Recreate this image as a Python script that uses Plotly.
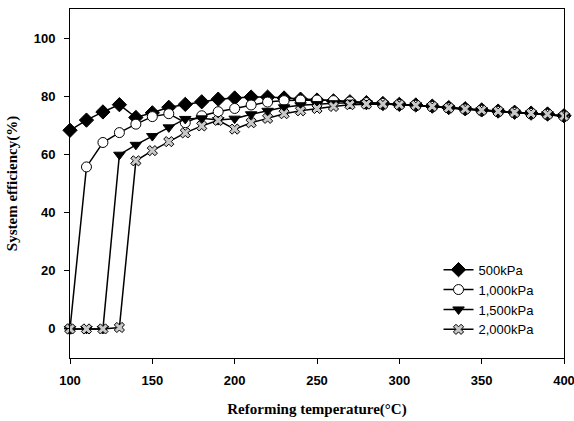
import plotly.graph_objects as go

temps = [100, 110, 120, 130, 140, 150, 160, 170, 180, 190, 200, 210, 220, 230, 240, 250,
         260, 270, 280, 290, 300, 310, 320, 330, 340, 350, 360, 370, 380, 390, 400]

eff_500 = [68.3, 71.8, 74.6, 77.1, 72.7, 74.3, 76.2, 77.2, 78.1, 79.0, 79.4, 79.7, 79.7, 79.4, 79.0, 78.7,
           78.4, 78.1, 77.8, 77.5, 77.2, 77.0, 76.6, 76.1, 75.7, 75.3, 74.9, 74.5, 74.2, 73.9, 73.3]
eff_1000 = [0.0, 55.7, 64.1, 67.5, 70.4, 73.0, 74.0, 70.9, 73.3, 74.7, 75.8, 77.0, 78.0, 78.5, 78.7, 78.7,
            78.5, 78.1, 77.8, 77.5, 77.1, 76.9, 76.5, 76.0, 75.6, 75.2, 74.8, 74.4, 74.1, 73.8, 73.2]
eff_1500 = [0.0, 0.0, 0.0, 59.9, 63.3, 66.3, 69.3, 72.2, 72.4, 71.8, 72.3, 73.8, 75.0, 76.2, 76.9, 77.3,
            77.6, 77.8, 77.7, 77.4, 77.1, 76.9, 76.5, 76.0, 75.6, 75.2, 74.8, 74.4, 74.1, 73.8, 73.2]
eff_2000 = [0.0, 0.0, 0.0, 0.5, 57.8, 61.3, 64.4, 67.4, 69.8, 71.7, 68.7, 70.9, 72.4, 74.0, 75.0, 75.8,
            76.5, 77.1, 77.3, 77.3, 77.1, 76.9, 76.5, 76.0, 75.6, 75.2, 74.8, 74.4, 74.1, 73.8, 73.2]

series_names = ["500kPa", "1,000kPa", "1,500kPa", "2,000kPa"]

fig = go.Figure()

styles = [
    dict(symbol="diamond", size=11, color="black", line=dict(color="black", width=1)),
    dict(symbol="circle", size=10, color="white", line=dict(color="black", width=1)),
    dict(symbol="triangle-down", size=10, color="black", line=dict(color="black", width=1)),
    dict(symbol="x", size=9, color="#c8c8c8", line=dict(color="black", width=1)),
]

for name, vals, mk in zip(series_names, [eff_500, eff_1000, eff_1500, eff_2000], styles):
    fig.add_trace(go.Scatter(
        x=temps, y=vals, name=name, mode="lines+markers",
        line=dict(color="black", width=1.5),
        marker=mk,
        cliponaxis=False,
    ))

tick_font = dict(family="Liberation Sans, Arial, sans-serif", size=13, color="black", weight="bold")
title_font = dict(family="Liberation Serif, Times New Roman, serif", size=15, color="black", weight="bold")

axis_common = dict(
    showline=True, linecolor="black", linewidth=1, mirror=True,
    ticks="outside", ticklen=5, tickcolor="black", tickwidth=1,
    showgrid=False, zeroline=False,
    tickfont=tick_font, ticklabeloverflow="allow",
)

fig.update_xaxes(range=[100, 400], dtick=50, tick0=100, ticklabelstandoff=5,
                 title=dict(text="Reforming temperature(°C)", font=title_font, standoff=16),
                 **axis_common)
fig.update_yaxes(range=[-10, 110], dtick=20, tick0=0, ticklabelstandoff=6,
                 title=dict(text="System efficiency(%)", font=title_font, standoff=12),
                 **axis_common)

fig.update_layout(
    width=574, height=421,
    margin=dict(l=70, r=10, t=9, b=63, autoexpand=False),
    paper_bgcolor="white", plot_bgcolor="white",
    legend=dict(x=0.746, y=0.296, xanchor="left", yanchor="top",
                bgcolor="rgba(0,0,0,0)",
                font=dict(family="Liberation Sans, Arial, sans-serif", size=13, color="black"),
                tracegroupgap=0),
    showlegend=True,
)

fig.write_html("out.html", config={"displayModeBar": False},
               post_script="document.body.style.margin='0';document.body.style.padding='0';")
